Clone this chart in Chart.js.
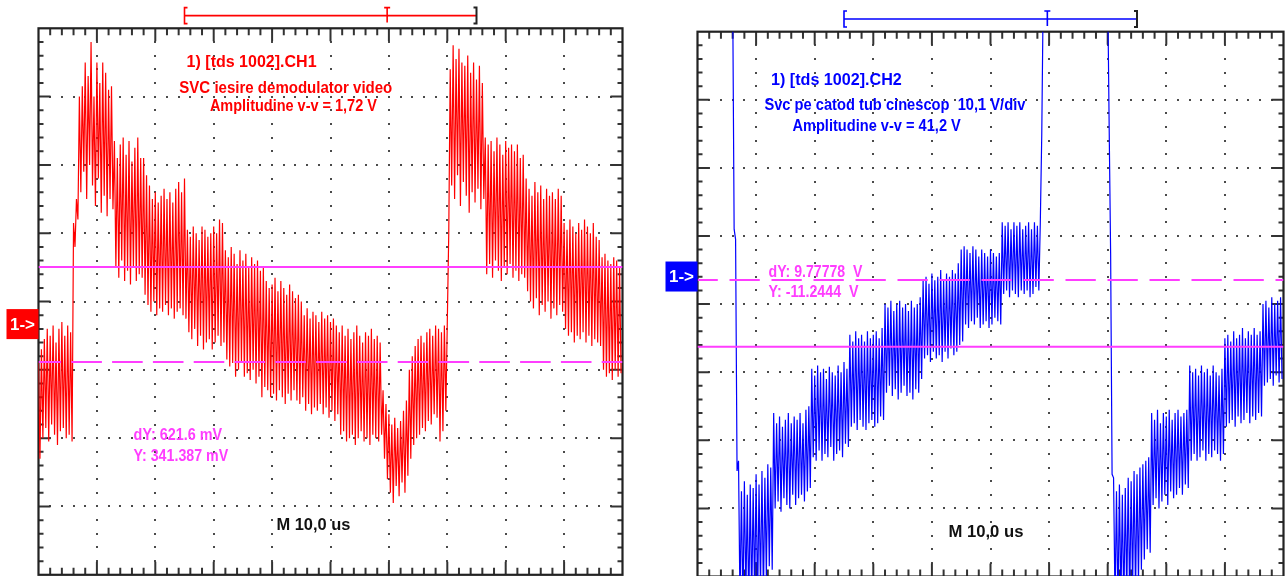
<!DOCTYPE html>
<html>
<head>
<meta charset="utf-8">
<script src="https://cdn.jsdelivr.net/npm/chart.js@4.4.1/dist/chart.umd.min.js"></script>
<style>
  html, body { margin: 0; padding: 0; background: #fff; overflow: hidden; width: 1286px; height: 576px; }
  canvas { position: absolute; top: 0; }
  #ch1 { left: 0; }
  #ch2 { left: 640px; }
</style>
</head>
<body>
<canvas id="ch1" width="640" height="580"></canvas>
<canvas id="ch2" width="646" height="580"></canvas>
<script>
// time axis: M 10,0 us -> 10 divisions of 10 us; vertical in divisions (-4..4)
const timeRange = [0, 100];
const divRange = [-4, 4];
const rippleStep = 0.5; // us between ripple peaks

// CH1 (video demodulator out): peak / trough of each ripple cycle
const ch1Hi = [
  -0.9, -0.7, -0.55, -0.4, -0.5, -0.35, -0.6, -0.4, -0.3, -0.5, -0.35, -0.45,
  1.15, 1.5,
  3.0, 3.15, 3.5, 3.3, 3.8, 3.0, 3.5, 3.2, 3.5, 3.35, 3.1, 3.15,
  2.35, 2.1, 2.3, 2.4, 2.15, 2.35, 2.05, 2.25, 2.4, 2.1,
  2.1, 1.85, 1.7, 1.5, 1.6, 1.45, 1.55, 1.65, 1.5, 1.6, 1.45, 1.65, 1.75, 1.6, 1.8,
  1.05, 0.95, 1.1, 1.0, 0.9, 1.1, 1.05, 0.95, 1.0, 1.1, 1.0, 1.2, 1.15,
  0.75, 0.65, 0.8, 0.7, 0.55, 0.75, 0.6, 0.7, 0.5, 0.65, 0.55, 0.6, 0.45, 0.5,
  0.3, 0.2, 0.25, 0.35, 0.15, 0.3, 0.2, 0.1, 0.25, 0.15, 0.05, 0.1, 0.0,
  -0.2, -0.1, -0.25, -0.15, -0.2, -0.3, -0.15, -0.25, -0.2, -0.3, -0.25, -0.35,
  -0.45, -0.35, -0.5, -0.4, -0.55, -0.45, -0.35, -0.5, -0.6, -0.45, -0.5, -0.4, -0.55, -0.5, -0.6,
  -1.3, -1.5, -1.65, -1.8, -1.7, -1.85, -1.75, -1.6, -1.45,
  -1.0, -0.8, -0.65, -0.55, -0.5, -0.6, -0.45, -0.4, -0.5, -0.35, -0.4, -0.45, -0.35, -0.3,
  3.4, 3.75, 3.55, 3.7, 3.5, 3.45, 3.6, 3.35, 3.5, 3.25, 3.45, 3.2,
  2.4, 2.3, 2.35, 2.2, 2.4, 2.3, 2.15, 2.35, 2.25, 2.3, 2.2, 2.3, 2.1, 2.15,
  1.8, 1.65, 1.55, 1.75, 1.6, 1.7, 1.5, 1.65, 1.55, 1.6, 1.5, 1.65, 1.55,
  1.15, 1.05, 1.2, 1.1, 1.0, 1.15, 1.05, 1.2, 1.1, 1.0, 1.15, 0.95, 0.9,
  0.65, 0.7, 0.6, 0.55, 0.65, 0.6, 0.5
];
const ch1Lo = [
  -2.3, -2.0, -1.85, -2.05, -1.8, -1.95, -2.1, -1.9, -1.85, -2.0, -1.95, -2.05,
  0.8, 1.2,
  1.6, 1.9, 1.5, 2.0, 1.7, 1.4, 1.8, 1.3, 1.55, 1.25, 1.5, 1.35,
  0.5, 0.35, 0.6, 0.3, 0.45, 0.25, 0.5, 0.3, 0.4, 0.35,
  0.1, -0.05, -0.15, 0.0, -0.2, -0.1, -0.15, -0.05, -0.2, -0.1, -0.25, -0.15, -0.1, -0.2, -0.25,
  -0.45, -0.55, -0.4, -0.65, -0.5, -0.7, -0.6, -0.55, -0.7, -0.6, -0.5, -0.65, -0.6,
  -0.85, -0.95, -0.9, -1.1, -1.0, -0.9, -1.1, -1.05, -1.15, -1.0, -1.2, -1.1, -1.4, -1.25,
  -1.3, -1.4, -1.35, -1.45, -1.3, -1.4, -1.5, -1.35, -1.45, -1.3, -1.45, -1.5, -1.4,
  -1.6, -1.5, -1.65, -1.55, -1.6, -1.5, -1.65, -1.55, -1.7, -1.6, -1.75, -1.65,
  -1.95, -1.9, -2.05, -2.0, -1.95, -2.1, -2.0, -1.9, -2.05, -2.0, -2.1, -1.95, -2.0, -2.05, -1.95,
  -2.3, -2.6, -2.8, -2.95, -2.7, -2.85, -2.65, -2.8, -2.55,
  -2.3, -2.1, -2.0, -1.95, -1.85, -1.9, -1.75, -1.8, -1.65, -1.7, -2.05, -1.9, -1.6, 1.0,
  1.7, 1.5, 1.85, 1.4, 1.75, 1.55, 1.3, 1.6, 1.45, 1.65, 1.35, 1.5,
  0.4, 0.55, 0.35, 0.6, 0.45, 0.3, 0.5, 0.4, 0.55, 0.35, 0.45, 0.3, 0.4, 0.35,
  0.15, 0.0, -0.1, 0.05, -0.2, -0.05, -0.15, 0.0, -0.25, -0.1, -0.2, -0.05, -0.15,
  -0.4, -0.5, -0.45, -0.6, -0.5, -0.55, -0.45, -0.6, -0.5, -0.65, -0.55, -0.6, -0.65,
  -1.0, -1.1, -1.05, -1.15, -1.0, -1.1, -1.05
];

// CH2 (CRT cathode): values above 4 run off the top of the screen
const ch2Hi = [
  4.6, 4.6, 4.6, 4.6, 4.6, 4.6, 4.6, 4.6, 4.6, 4.6, 4.6, 4.6,
  4.6, 0.95,
  -2.3, -2.75, -2.6, -2.8, -2.65, -2.7, -2.5, -2.65, -2.45, -2.55, -2.35, -2.4,
  -1.6, -1.75, -1.65, -1.8, -1.7, -1.6, -1.75, -1.65, -1.7, -1.6, -1.75, -1.55, -1.5,
  -0.95, -1.05, -0.9, -1.0, -0.95, -1.1, -0.92, -1.0, -1.05, -0.9, -1.0, -0.85, -0.95,
  -0.45, -0.55, -0.4, -0.5, -0.45, -0.55, -0.4, -0.5, -0.45, -0.4, -0.5, -0.35,
  0.0, -0.05, 0.05, -0.1, 0.0, 0.05, -0.05, 0.0, -0.1, 0.05, -0.05, 0.0, 0.1,
  0.35, 0.4, 0.3, 0.45, 0.35, 0.4, 0.5, 0.35, 0.45, 0.4, 0.5, 0.45, 0.6, 0.8,
  0.85, 0.8, 0.75, 0.85, 0.8, 0.7, 0.8, 0.75, 0.7, 0.8, 0.75, 0.7, 0.75,
  1.2, 1.15, 1.2, 1.1, 1.2, 1.15, 1.2, 1.1, 1.15, 1.2, 1.1, 1.2, 1.15,
  1.2,
  4.6, 4.6, 4.6, 4.6, 4.6, 4.6, 4.6, 4.6, 4.6, 4.6, 4.6, 4.6,
  4.6, 4.6, 4.6, 4.6, 4.6, 4.6, 4.6, 4.6, 4.6, 4.6, 4.6,
  0.75,
  -2.55, -2.75, -2.65, -2.8, -2.7, -2.55, -2.6, -2.45, -2.5, -2.4, -2.35, -2.3, -2.25,
  -1.6, -1.7, -1.55, -1.75, -1.6, -1.65, -1.55, -1.7, -1.6, -1.55, -1.65, -1.6, -1.55,
  -0.9, -1.0, -0.95, -1.05, -0.9, -1.0, -0.95, -1.05, -0.9, -1.0, -1.05, -0.95,
  -0.5, -0.45, -0.55, -0.4, -0.5, -0.45, -0.35, -0.5, -0.4, -0.45, -0.35, -0.45, -0.4,
  0.0, 0.05, -0.05, 0.1, 0.0, 0.05, 0.1
];
const ch2Lo = [
  4.6, 4.6, 4.6, 4.6, 4.6, 4.6, 4.6, 4.6, 4.6, 4.6, 4.6, 4.6,
  1.1, -2.45,
  -4.4, -4.5, -4.3, -4.5, -4.4, -4.3, -4.45, -4.2, -4.3, -4.0, -3.85, -3.9,
  -3.0, -2.9, -3.05, -2.85, -2.95, -3.0, -2.8, -2.95, -2.85, -2.8, -2.9, -2.75, -2.7,
  -2.25, -2.3, -2.15, -2.3, -2.2, -2.25, -2.1, -2.3, -2.2, -2.15, -2.25, -2.05, -2.1,
  -1.8, -1.75, -1.85, -1.7, -1.8, -1.85, -1.75, -1.7, -1.8, -1.75, -1.65, -1.7,
  -1.3, -1.2, -1.35, -1.25, -1.4, -1.3, -1.2, -1.35, -1.3, -1.4, -1.25, -1.3, -1.1,
  -0.8, -0.75, -0.85, -0.7, -0.8, -0.75, -0.85, -0.7, -0.8, -0.65, -0.75, -0.7, -0.6, -0.55,
  -0.3, -0.35, -0.25, -0.3, -0.2, -0.35, -0.3, -0.25, -0.35, -0.3, -0.2, -0.25, -0.3,
  0.15, 0.2, 0.1, 0.2, 0.15, 0.1, 0.2, 0.15, 0.2, 0.1, 0.15, 0.25, 0.2,
  2.5,
  4.6, 4.6, 4.6, 4.6, 4.6, 4.6, 4.6, 4.6, 4.6, 4.6, 4.6, 4.6,
  4.6, 4.6, 4.6, 4.6, 4.6, 4.6, 4.6, 4.6, 4.6, 4.6, 2.6,
  -2.5,
  -4.4, -4.5, -4.4, -4.5, -4.3, -4.4, -4.2, -4.3, -4.1, -3.9, -3.75, -3.6, -3.65,
  -2.95, -2.85, -3.0, -2.9, -2.8, -2.95, -2.75, -2.85, -2.8, -2.7, -2.8, -2.65, -2.7,
  -2.3, -2.2, -2.3, -2.25, -2.15, -2.3, -2.2, -2.25, -2.15, -2.2, -2.3, -2.2,
  -1.8, -1.75, -1.7, -1.8, -1.65, -1.75, -1.7, -1.6, -1.75, -1.65, -1.7, -1.6, -1.65,
  -1.2, -1.15, -1.1, -1.2, -1.05, -1.15, -1.1
];

// cursor levels [solid, dashed] and ground marker, in divisions
const ch1Cursors = [0.506, -0.885];
const ch2Cursors = [-0.626, 0.354];
const ch1Ground = -0.33;
const ch2Ground = 0.405;
// record window and trigger point, in us
const recWindow = [25, 75];
const trigPos = 59.7;

const RED = '#ff0000', BLUE = '#0000ff', MAG = '#ff3dff', INK = '#111';
const FONT = '"Liberation Sans", Arial, sans-serif';

function trace(hi, lo) {
  const pts = [];
  hi.forEach((h, i) => {
    pts.push({ x: i * rippleStep, y: h });
    pts.push({ x: (i + 0.5) * rippleStep, y: lo[i] });
  });
  return pts;
}

function fitText(ctx, str, x, y, w) {
  const m = ctx.measureText(str).width;
  ctx.save();
  ctx.translate(x, y);
  ctx.scale(w / m, 1);
  ctx.fillText(str, 0, 0);
  ctx.restore();
}

function scopePlugin(cfg) {
  return {
    id: 'scope',
    beforeDatasetsDraw(chart) {
      const { ctx, chartArea: a } = chart;
      const x = chart.scales.x, y = chart.scales.y;
      ctx.save();
      // dotted graticule
      ctx.fillStyle = '#4a4a4a';
      for (let v = 10; v < 100; v += 10) {
        const px = Math.round(x.getPixelForValue(v));
        for (let k = -19; k <= 19; k++) {
          const py = Math.round(y.getPixelForValue(k / 5));
          ctx.fillRect(px - 1, py - 1, 2, 2);
        }
      }
      for (let d = -3; d <= 3; d++) {
        const py = Math.round(y.getPixelForValue(d));
        for (let m = 1; m < 50; m++) {
          const px = Math.round(x.getPixelForValue(m * 2));
          ctx.fillRect(px - 1, py - 1, 2, 2);
        }
      }
      // ticks on the frame
      ctx.strokeStyle = '#333';
      ctx.lineWidth = 2;
      ctx.beginPath();
      for (let m = 1; m < 50; m++) {
        const px = x.getPixelForValue(m * 2);
        const len = m % 5 === 0 ? 13 : 7;
        ctx.moveTo(px, a.top); ctx.lineTo(px, a.top + len);
        ctx.moveTo(px, a.bottom); ctx.lineTo(px, a.bottom - len);
      }
      for (let k = -19; k <= 19; k++) {
        const py = y.getPixelForValue(k / 5);
        const len = k % 5 === 0 ? 12 : 5;
        ctx.moveTo(a.left, py); ctx.lineTo(a.left + len, py);
        ctx.moveTo(a.right, py); ctx.lineTo(a.right - len, py);
      }
      ctx.stroke();
      ctx.lineWidth = 2.2;
      ctx.strokeStyle = '#222';
      ctx.strokeRect(a.left, a.top, a.right - a.left, a.bottom - a.top);
      ctx.restore();
    },
    afterDatasetsDraw(chart) {
      const { ctx, chartArea: a } = chart;
      const x = chart.scales.x, y = chart.scales.y;
      ctx.save();

      // record bracket + trigger T
      const bx0 = x.getPixelForValue(recWindow[0]);
      const bx1 = x.getPixelForValue(recWindow[1]);
      const bt = x.getPixelForValue(trigPos);
      const by = a.top - 12.7;
      ctx.lineWidth = 1.6;
      ctx.strokeStyle = cfg.color;
      ctx.beginPath();
      ctx.moveTo(bx0 + 3, by - 8); ctx.lineTo(bx0, by - 8); ctx.lineTo(bx0, by + 8); ctx.lineTo(bx0 + 3, by + 8);
      ctx.moveTo(bx0, by); ctx.lineTo(bx1, by);
      ctx.moveTo(bt - 3, by - 8); ctx.lineTo(bt + 3, by - 8);
      ctx.moveTo(bt, by - 8); ctx.lineTo(bt, by + 7);
      ctx.stroke();
      ctx.strokeStyle = '#222';
      ctx.lineWidth = 2;
      ctx.beginPath();
      ctx.moveTo(bx1 - 3, by - 8); ctx.lineTo(bx1, by - 8); ctx.lineTo(bx1, by + 8); ctx.lineTo(bx1 - 3, by + 8);
      ctx.stroke();

      // ground level marker
      const gy = y.getPixelForValue(cfg.ground);
      ctx.fillStyle = cfg.color;
      ctx.fillRect(a.left - 32, gy - 15, 32, 30);
      ctx.fillStyle = '#fff';
      ctx.font = 'bold 17px ' + FONT;
      ctx.textAlign = 'center';
      ctx.textBaseline = 'middle';
      ctx.fillText('1->', a.left - 16, gy + 1);

      // labels
      ctx.textAlign = 'left';
      ctx.textBaseline = 'alphabetic';
      ctx.font = 'bold 16px ' + FONT;
      cfg.labels.forEach(l => {
        ctx.fillStyle = l.c;
        fitText(ctx, l.s, l.x, l.y, l.w);
      });
      ctx.restore();
    }
  };
}

function makeScope(id, cfg) {
  new Chart(document.getElementById(id), {
    type: 'line',
    data: {
      datasets: [
        { data: [{ x: 0, y: cfg.cursors[0] }, { x: 100, y: cfg.cursors[0] }], borderColor: MAG, borderWidth: 2 },
        { data: [{ x: 0, y: cfg.cursors[1] }, { x: 100, y: cfg.cursors[1] }], borderColor: MAG, borderWidth: 2,
          borderDash: cfg.dash, borderDashOffset: cfg.dashOffset },
        { data: trace(cfg.hi, cfg.lo), borderColor: cfg.color, borderWidth: 1.2 }
      ]
    },
    options: {
      responsive: false,
      animation: false,
      devicePixelRatio: 1,
      events: [],
      layout: { padding: cfg.pad },
      plugins: { legend: { display: false }, tooltip: { enabled: false } },
      elements: { point: { radius: 0 }, line: { tension: 0 } },
      scales: {
        x: { type: 'linear', min: timeRange[0], max: timeRange[1], display: false },
        y: { type: 'linear', min: divRange[0], max: divRange[1], display: false }
      }
    },
    plugins: [scopePlugin(cfg)]
  });
}

makeScope('ch1', {
  hi: ch1Hi, lo: ch1Lo, color: RED, cursors: ch1Cursors, ground: ch1Ground,
  dash: [30.6, 10.2], dashOffset: 8,
  pad: { left: 38.5, top: 28.3, right: 17.5, bottom: 5.2 },
  labels: [
    { s: '1) [tds 1002].CH1', x: 186.6, y: 66.5, w: 130, c: RED },
    { s: 'SVC iesire demodulator video', x: 179.3, y: 92.5, w: 213, c: RED },
    { s: 'Amplitudine v-v = 1,72 V', x: 209.9, y: 111, w: 167, c: RED },
    { s: 'dY: 621.6 mV', x: 133.6, y: 440, w: 88.5, c: MAG },
    { s: 'Y: 341.387 mV', x: 133.6, y: 461, w: 94.6, c: MAG },
    { s: 'M 10,0 us', x: 276.4, y: 530, w: 74, c: INK }
  ]
});

makeScope('ch2', {
  hi: ch2Hi, lo: ch2Lo, color: BLUE, cursors: ch2Cursors, ground: ch2Ground,
  dash: [30.3, 11.7], dashOffset: 10,
  pad: { left: 57.5, top: 31.7, right: 2.5, bottom: 3.5 },
  labels: [
    { s: '1) [tds 1002].CH2', x: 131, y: 84.5, w: 130.8, c: BLUE },
    { s: 'Svc pe catod tub cinescop  10,1 V/div', x: 124.4, y: 110, w: 261, c: BLUE },
    { s: 'Amplitudine v-v = 41,2 V', x: 152.4, y: 131, w: 168.4, c: BLUE },
    { s: 'dY: 9.77778  V', x: 128.5, y: 276.5, w: 94, c: MAG },
    { s: 'Y: -11.2444  V', x: 128.5, y: 296.5, w: 90, c: MAG },
    { s: 'M 10,0 us', x: 308.4, y: 536.5, w: 75, c: INK }
  ]
});
</script>
</body>
</html>
